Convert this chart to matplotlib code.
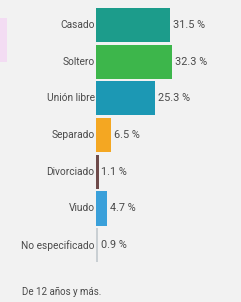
import matplotlib.pyplot as plt
from matplotlib.patches import Rectangle

# --- datos ---
categorias = ["Casado", "Soltero", "Unión libre", "Separado", "Divorciado", "Viudo", "No especificado"]
porcentajes = [31.5, 32.3, 25.3, 6.5, 1.1, 4.7, 0.9]
colores = ["#1c9c8b", "#3db64b", "#1c98b4", "#f4a722", "#6e4a4a", "#3aa0da", "#c9cfd3"]
etiquetas = ["31.5 %", "32.3 %", "25.3 %", "6.5 %", "1.1 %", "4.7 %", "0.9 %"]
nota = "De 12 años y más."

fondo = "#f2f2f2"
texto = "#4a4a4a"
plt.rcParams['font.family'] = ['Roboto', 'DejaVu Sans']

fig = plt.figure(figsize=(2.41, 3.02), dpi=100, facecolor=fondo)
ax = fig.add_axes([96 / 241, 0.1275, 145 / 241, 0.8506])
ax.set_facecolor(fondo)

y = list(range(len(categorias)))
ax.barh(y, porcentajes, height=0.93, color=colores)
ax.set_ylim(len(categorias) - 0.5, -0.5)
ax.set_xlim(0, 145 / 2.35)

for i, (v, lab) in enumerate(zip(porcentajes, etiquetas)):
    ax.text(v + 1.2, i, lab, va="center", ha="left", fontsize=7.8, color=texto)
    ax.text(-0.6, i, categorias[i], va="center", ha="right", fontsize=7.3, color=texto)

for s in ax.spines.values():
    s.set_visible(False)
ax.set_xticks([])
ax.set_yticks([])

# pieza rosa cortada en el borde izquierdo
fig.patches.append(Rectangle((0, 1 - 62 / 302), 7 / 241, 44 / 302, transform=fig.transFigure,
                             facecolor="#f3dcf3", edgecolor="none"))

fig.text(22 / 241, 1 - 292 / 302, nota, fontsize=7, color=texto, va="center", ha="left")

fig.savefig("out.png", dpi=100, facecolor=fondo)
